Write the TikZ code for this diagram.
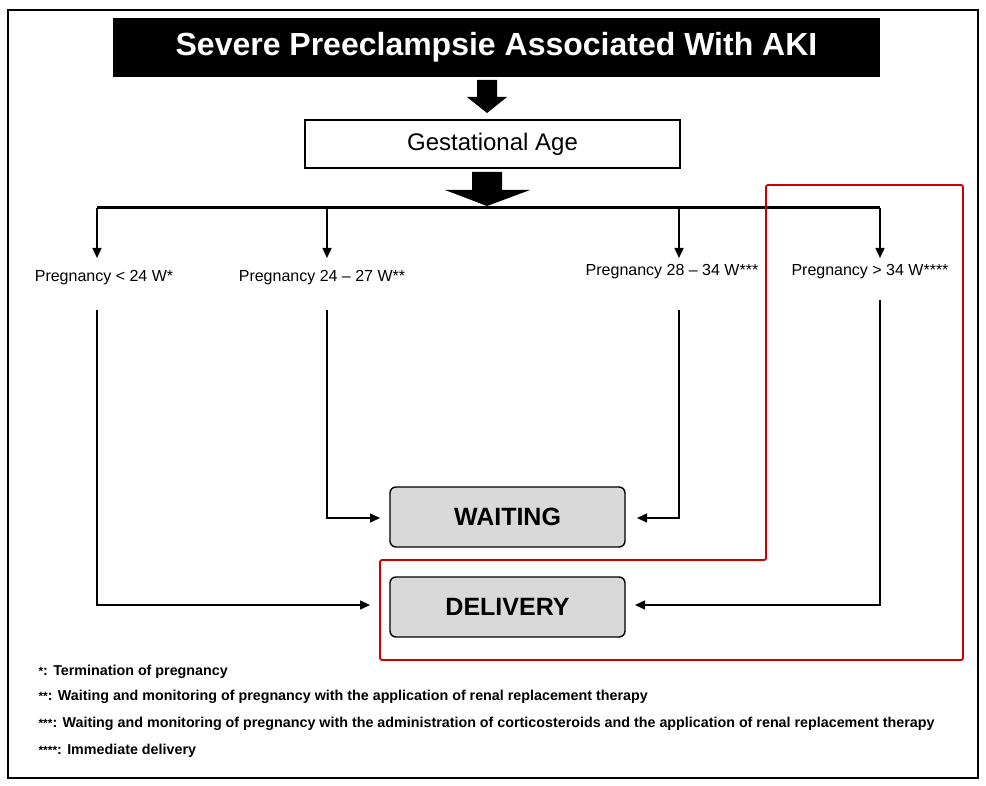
\documentclass[tikz,border=0pt]{standalone}
\usepackage{fontspec}
\setmainfont{Liberation Sans}
\usetikzlibrary{arrows.meta}
\begin{document}
\begin{tikzpicture}[x=1pt,y=-1pt,
  ln/.style={line width=1.4pt},
  arr/.style={ln,-{Triangle[length=10pt,width=9pt]}},
  lab/.style={font=\fontsize{16}{19}\selectfont,anchor=center},
  gbox/.style={draw,line width=1.4pt,fill=gray!30,rounded corners=6pt,minimum width=235pt,minimum height=60pt,font=\fontsize{25}{30}\selectfont\bfseries},
  foot/.style={anchor=west,font=\fontsize{14.3}{17}\selectfont\bfseries},
  blk/.style={fill=black}]
\useasboundingbox (0,0) rectangle (986,786);
\draw[line width=2.5pt] (8,10) rectangle (978,778);
\node[fill=black,text=white,minimum width=767pt,minimum height=59pt,font=\fontsize{32}{36}\selectfont\bfseries] (title) at (496.5,47.5) {Severe Preeclampsie Associated With AKI};
\fill[blk] (477,80) -- (497,80) -- (497,97) -- (507,97) -- (487,113) -- (467,97) -- (477,97) -- cycle;
\node[draw,line width=1.4pt,minimum width=375pt,minimum height=48pt,font=\fontsize{24}{28}\selectfont] (ga) at (492.5,144) {Gestational Age};
\fill[blk] (472,172) -- (502,172) -- (502,190) -- (530,190) -- (487,206) -- (445,190) -- (472,190) -- cycle;
\coordinate (l) at (97,208); \coordinate (r) at (880,208);
\draw[line width=3pt] (l) -- (r);
\coordinate (c2) at (327,208); \coordinate (c3) at (679,208);
\node[lab] (p1) at (104,278) {Pregnancy < 24 W*};
\node[lab] (p2) at (322,278) {Pregnancy 24 – 27 W**};
\node[lab] (p3) at (672,272) {Pregnancy 28 – 34 W***};
\node[lab] (p4) at (870,272) {Pregnancy > 34 W****};
\draw[arr] (l) -- (97,258);
\draw[arr] (c2) -- (327,258);
\draw[arr] (c3) -- (679,258);
\draw[arr] (r) -- (880,258);
\node[gbox] (w) at (507.5,517) {WAITING};
\node[gbox] (d) at (507.5,607) {DELIVERY};
\draw[arr] (97,310) |- (370,605);
\draw[arr] (327,310) |- (380,518);
\draw[arr] (679,310) |- (637,518);
\draw[arr] (880,300) |- (635,605);
\draw[red!80!black,line width=1.8pt,rounded corners=2pt] (380,660) -- (380,560) -- (766,560) -- (766,185) -- (963,185) -- (963,660) -- cycle;
\node[foot] (f1) at (35,672) {{\large*}: Termination of pregnancy};
\node[foot] (f2) at (35,697) {{\large**}: Waiting and monitoring of pregnancy with the application of renal replacement therapy};
\node[foot] (f3) at (35,724) {{\large***}: Waiting and monitoring of pregnancy with the administration of corticosteroids and the application of renal replacement therapy};
\node[foot] (f4) at (35,751) {{\large****}: Immediate delivery};
\end{tikzpicture}
\end{document}
